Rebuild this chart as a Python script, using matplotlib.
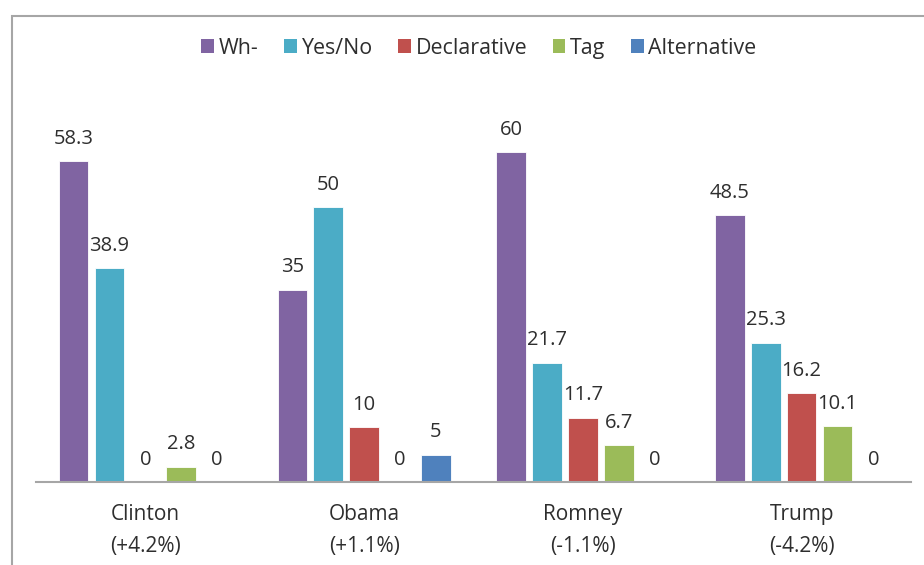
import matplotlib
matplotlib.use("Agg")
import matplotlib.pyplot as plt
from matplotlib.patches import Rectangle, Patch
import numpy as np

plt.rcParams['font.family'] = ['Open Sans', 'DejaVu Sans']

candidates = ["Clinton\n(+4.2%)", "Obama\n(+1.1%)", "Romney\n(-1.1%)", "Trump\n(-4.2%)"]
series_names = ["Wh-", "Yes/No", "Declarative", "Tag", "Alternative"]
wh = [58.3, 35, 60, 48.5]
yes_no = [38.9, 50, 21.7, 25.3]
declarative = [0, 10, 11.7, 16.2]
tag = [2.8, 0, 6.7, 10.1]
alternative = [0, 5, 0, 0]
colors = ["#8064A2", "#4BACC6", "#C0504D", "#9BBB59", "#4F81BD"]

series = [wh, yes_no, declarative, tag, alternative]

fig = plt.figure(figsize=(9.24, 5.65), dpi=100)
ax = fig.add_axes([36 / 924, 83 / 565, 875 / 924, 412.5 / 565])

x = np.arange(len(candidates))
step = 0.164
width = 0.135
text_color = "#2e2e2e"

for i, (name, vals, col) in enumerate(zip(series_names, series, colors)):
    pos = x + (i - 2) * step
    bars = ax.bar(pos, vals, width=width, color=col, edgecolor="white",
                  linewidth=0.6, label=name)
    for b, v in zip(bars, vals):
        ax.annotate(f"{v:g}", (b.get_x() + b.get_width() / 2, v),
                    xytext=(0, 12.5), textcoords="offset points",
                    ha="center", va="baseline", fontsize=14.5, color=text_color)

ax.set_xlim(-0.5, 3.5)
ax.set_ylim(0, 75)
ax.set_xticks(x)
ax.set_xticklabels(candidates, fontsize=15, color=text_color, linespacing=1.7)
ax.tick_params(axis="x", length=0, pad=15.8)
ax.set_yticks([])
for s in ["top", "left", "right"]:
    ax.spines[s].set_visible(False)
ax.spines["bottom"].set_color("#a6a6a6")
ax.spines["bottom"].set_linewidth(1.5)

handles = [Patch(facecolor=c, edgecolor="none") for c in colors]
fig.legend(handles, series_names, loc="center", bbox_to_anchor=(479 / 924, 0.915),
           ncol=5, frameon=False, fontsize=15.4, handlelength=0.58,
           handleheight=0.58, handletextpad=0.23, columnspacing=1.2,
           labelcolor=text_color)

# outer chart border
fig.add_artist(Rectangle((11.5 / 924, -0.1), 1.2, (565 - 15.5) / 565 + 0.1,
                         transform=fig.transFigure, fill=False,
                         edgecolor="#a6a6a6", linewidth=1.5))

fig.savefig("out.png", dpi=100)
